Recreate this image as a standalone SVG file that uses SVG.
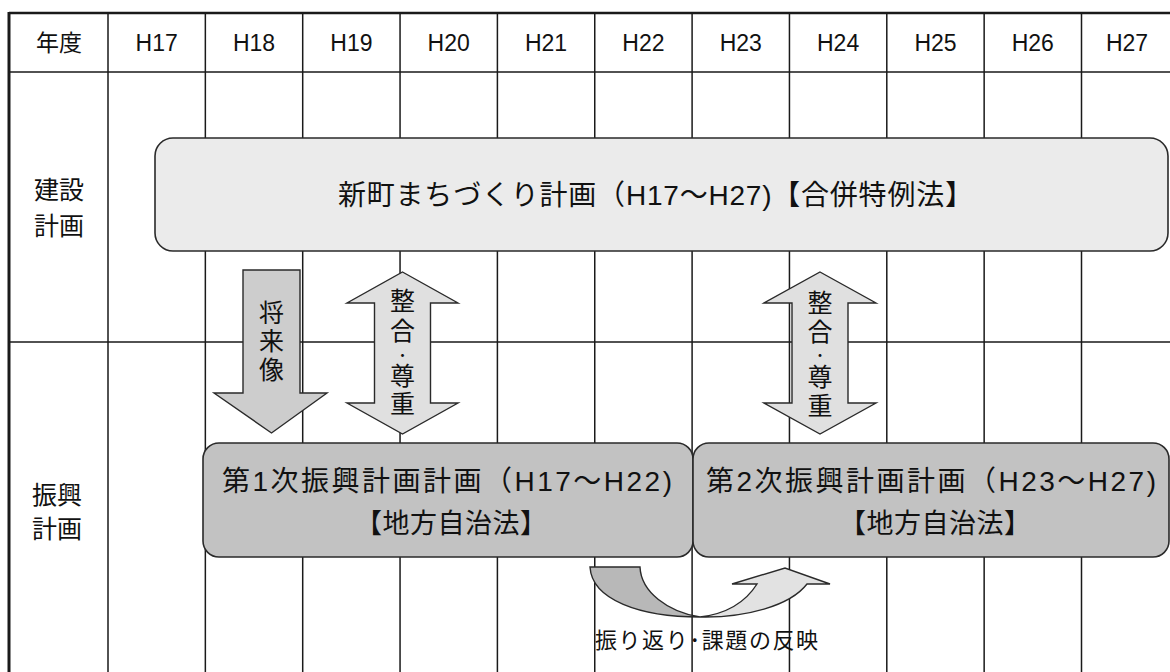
<svg xmlns="http://www.w3.org/2000/svg" width="1170" height="672" viewBox="0 0 1170 672">
<style>
text{font-family:"Liberation Sans","Noto Sans CJK JP",sans-serif;fill:#111;}
.hd{font-size:23px;text-anchor:middle;dominant-baseline:central;}
.lb{font-size:25px;text-anchor:middle;dominant-baseline:central;}
.vt{font-size:25px;text-anchor:middle;dominant-baseline:central;}
.dot{font-size:14px;text-anchor:middle;dominant-baseline:central;}
.grid{stroke:#1a1a1a;stroke-width:1.5;fill:none;}
.box{stroke:#2a2a2a;stroke-width:1.6;}
.arr{stroke:#2a2a2a;stroke-width:1.4;stroke-linejoin:miter;}
</style>
<rect width="1170" height="672" fill="#fff"/>
<g id="grid">
<path class="grid" d="M108,13V672M205.35,13V672M302.7,13V672M400.05,13V672M497.4,13V672M594.75,13V672M692.1,13V672M789.45,13V672M886.8,13V672M984.15,13V672M1081.5,13V672"/>
<path class="grid" d="M9,72H1170M9,342H1170"/>
<path d="M9,13H1170" stroke="#1a1a1a" stroke-width="2.5"/>
<path d="M9,12V672" stroke="#1a1a1a" stroke-width="3"/>
</g>
<g id="header">
<text class="hd" x="59" y="43">年度</text>
<text class="hd" x="156.7" y="43">H17</text>
<text class="hd" x="254" y="43">H18</text>
<text class="hd" x="351.4" y="43">H19</text>
<text class="hd" x="448.7" y="43">H20</text>
<text class="hd" x="546" y="43">H21</text>
<text class="hd" x="643.4" y="43">H22</text>
<text class="hd" x="740.8" y="43">H23</text>
<text class="hd" x="838.1" y="43">H24</text>
<text class="hd" x="935.5" y="43">H25</text>
<text class="hd" x="1032.8" y="43">H26</text>
<text class="hd" x="1127" y="43">H27</text>
</g>
<g id="row-labels">
<text class="lb" x="59" y="190">建設</text>
<text class="lb" x="59" y="226">計画</text>
<text class="lb" x="57" y="495">振興</text>
<text class="lb" x="57" y="529">計画</text>
</g>
<g id="kensetsu-plan">
<rect class="box" x="155" y="138" width="1013" height="113" rx="18" fill="#ebebeb"/>
<text x="655.5" y="195" font-size="28" text-anchor="middle" dominant-baseline="central" textLength="635" lengthAdjust="spacing">新町まちづくり計画（H17～H27)【合併特例法】</text>
</g>
<g id="connectors">
<g id="arrow-shourai">
<path class="arr" fill="#cdcdcd" d="M243,270H300V393H327L271.5,433L214,393H243Z"/>
<text class="vt" x="271.5"><tspan x="271.5" y="313">将</tspan><tspan x="271.5" y="341">来</tspan><tspan x="271.5" y="370">像</tspan></text>
</g>
<g id="arrow-seigou-1">
<path class="arr" fill="#e0e0e0" d="M402.5,272L458,303H430.5V403H458L402.5,434L347,403H374.5V303H347Z"/>
<text class="vt" x="402.5"><tspan x="402.5" y="301">整</tspan><tspan x="402.5" y="331">合</tspan></text>
<text class="dot" x="402.5" y="355">・</text>
<text class="vt" x="402.5"><tspan x="402.5" y="376">尊</tspan><tspan x="402.5" y="404">重</tspan></text>
</g>
<g id="arrow-seigou-2">
<path class="arr" fill="#e0e0e0" d="M820,272L876,303H848V403H876L820,434L764,403H792V303H764Z"/>
<text class="vt" x="820"><tspan x="820" y="303">整</tspan><tspan x="820" y="332">合</tspan></text>
<text class="dot" x="820" y="355">・</text>
<text class="vt" x="820"><tspan x="820" y="377">尊</tspan><tspan x="820" y="406">重</tspan></text>
</g>
<g id="arrow-feedback">
<path class="arr" fill="#b8b8b8" d="M590,567H640C641,592 668,612 700,617C640,617 592,600 590,567Z"/>
<path class="arr" fill="#e2e2e2" d="M700,617C745,618 790,606 807,584H830L785,568L732,584H757C745,603 725,614 700,617Z"/>
</g>
</g>
<g id="shinkou-1">
<rect class="box" x="203" y="443" width="490" height="114" rx="16" fill="#c2c2c2"/>
<text x="447" y="481" font-size="28" text-anchor="middle" dominant-baseline="central" textLength="450" lengthAdjust="spacing">第1次振興計画計画（H17～H22)</text>
<text x="451" y="524" font-size="27" text-anchor="middle" dominant-baseline="central" textLength="192" lengthAdjust="spacing">【地方自治法】</text>
</g>
<g id="shinkou-2">
<rect class="box" x="693" y="443" width="476" height="114" rx="16" fill="#c2c2c2"/>
<text x="931" y="481" font-size="28" text-anchor="middle" dominant-baseline="central" textLength="450" lengthAdjust="spacing">第2次振興計画計画（H23～H27)</text>
<text x="935" y="524" font-size="27" text-anchor="middle" dominant-baseline="central" textLength="192" lengthAdjust="spacing">【地方自治法】</text>
</g>
<g id="feedback-label">
<text x="706.5" y="640" font-size="22" text-anchor="middle" dominant-baseline="central" textLength="223" lengthAdjust="spacing">振り返り･課題の反映</text>
</g>
</svg>
